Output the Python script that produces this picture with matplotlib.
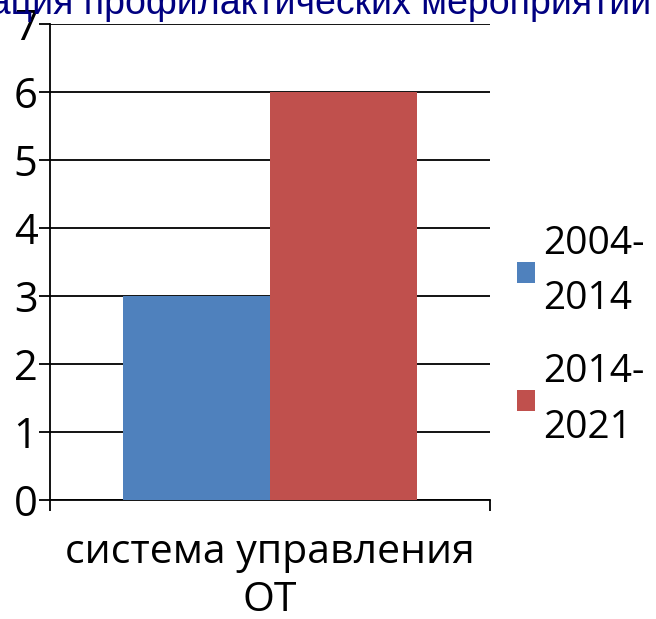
import matplotlib
matplotlib.use("Agg")
import matplotlib.pyplot as plt
import numpy as np

categories = ["система управления\nОТ"]
series_names = ["2004-\n2014", "2014-\n2021"]
values_2004_2014 = [3]
values_2014_2021 = [6]
colors = ["#4F81BD", "#C0504D"]
title = "Организация профилактических мероприятий"

W, H = 656, 619
fig = plt.figure(figsize=(W/100, H/100), dpi=100)
ax = fig.add_axes([50/W, 1-500/H, 440/W, 476/H])

x = np.arange(len(categories))
bw = 0.334
ax.bar(x - bw/2, values_2004_2014, bw, color=colors[0], label=series_names[0], zorder=3)
ax.bar(x + bw/2, values_2014_2021, bw, color=colors[1], label=series_names[1], zorder=3)

ax.set_xlim(-0.5, 0.5)
ax.set_ylim(0, 7)
ax.set_yticks(range(0, 8))
ax.yaxis.grid(True, color="black", linewidth=1.3, zorder=0)
for s in ["top", "right"]:
    ax.spines[s].set_visible(False)
ax.spines["left"].set_linewidth(1.3)
ax.spines["bottom"].set_linewidth(1.3)
ax.tick_params(axis="y", length=8, width=1.3, labelsize=30, pad=1, direction="out")
ax.set_xticks([-0.5, 0.5], minor=False)
ax.set_xticklabels(["", ""])
ax.tick_params(axis="x", length=8, width=1.3)
ax.text(0, -0.48, categories[0], ha="center", va="top", fontsize=29.5,
        linespacing=1.25, transform=ax.transData, family="Open Sans")
for lab in ax.get_yticklabels():
    lab.set_family("Open Sans")

leg = fig.legend(loc="upper left", bbox_to_anchor=(517/W, 1-225/H), frameon=False,
                 handlelength=0.46, handleheight=0.46, handletextpad=0.2,
                 labelspacing=0.9, borderaxespad=0, borderpad=0,
                 prop={"family": "Open Sans", "size": 28})
for t in leg.get_texts():
    t.set_linespacing(1.6)

fig.text(651/W, 1-14/H, title, ha="right", va="baseline", fontsize=27,
         color="#000080", family="Liberation Sans")

fig.savefig("out.png", dpi=100)
